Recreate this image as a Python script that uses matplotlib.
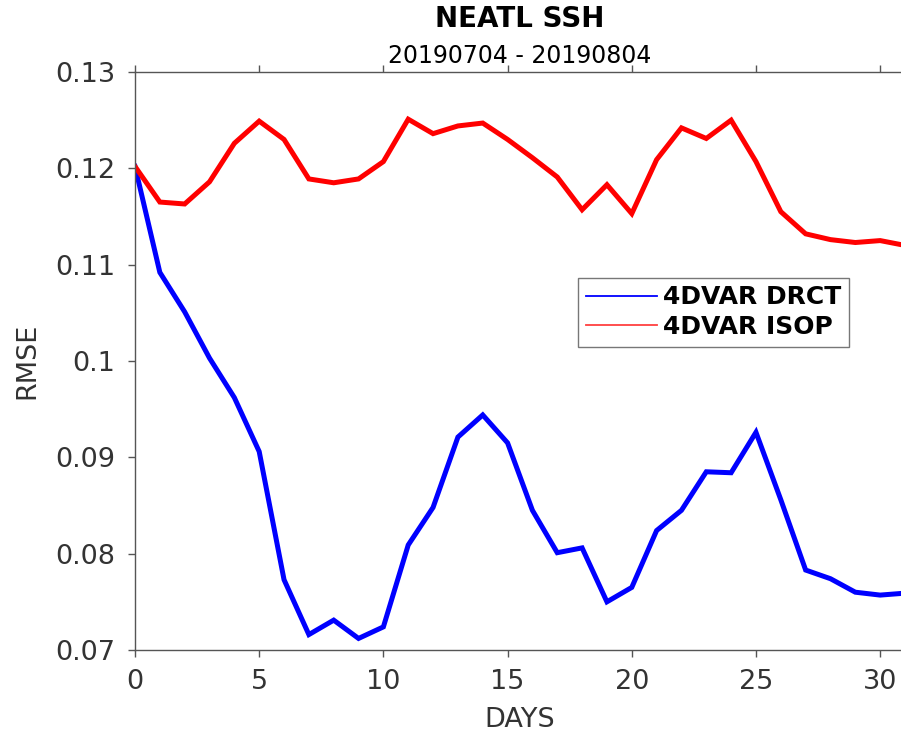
import numpy as np
import matplotlib
matplotlib.use('Agg')
import matplotlib.pyplot as plt
from matplotlib.lines import Line2D

#===============================================================================
# Data
#===============================================================================

days = list(range(32))

rmse_drct = [0.1202, 0.1092, 0.1051, 0.1003, 0.0962, 0.0906, 0.0773, 0.0716,
             0.0731, 0.0712, 0.0724, 0.0809, 0.0848, 0.0921, 0.0944, 0.0915,
             0.0845, 0.0801, 0.0806, 0.0750, 0.0765, 0.0824, 0.0845, 0.0885,
             0.0884, 0.0926, 0.0856, 0.0783, 0.0774, 0.0760, 0.0757, 0.0759]

rmse_isop = [0.1202, 0.1165, 0.1163, 0.1186, 0.1226, 0.1249, 0.1230, 0.1189,
             0.1185, 0.1189, 0.1207, 0.1251, 0.1236, 0.1244, 0.1247, 0.1230,
             0.1211, 0.1191, 0.1157, 0.1183, 0.1153, 0.1209, 0.1242, 0.1231,
             0.1250, 0.1207, 0.1155, 0.1132, 0.1126, 0.1123, 0.1125, 0.1120]

series_names = ['4DVAR DRCT', '4DVAR ISOP']
xticks = [0, 5, 10, 15, 20, 25, 30]
yticks = [0.07, 0.08, 0.09, 0.10, 0.11, 0.12, 0.13]
ytick_labels = ['0.07', '0.08', '0.09', '0.1', '0.11', '0.12', '0.13']

#===============================================================================
# Plot
#===============================================================================

W, H = 901, 736
fig = plt.figure(figsize=(W / 100, H / 100), dpi=100)

# axes box in pixels: left 135, right ~905 (cropped at 901), top 72, bottom 650
left, right, top, bottom = 135, 905, 72, 650
ax = fig.add_axes([left / W, 1 - bottom / H, (right - left) / W,
                   (bottom - top) / H])

txt_col = '#333333'
ax_col = '#555555'
ax.plot(days, rmse_drct, color='#0000ff', lw=3.6, solid_joinstyle='miter')
ax.plot(days, rmse_isop, color='#ff0000', lw=3.6, solid_joinstyle='miter')

ax.set_xlim(0, 31)
ax.set_ylim(0.07, 0.13)
ax.set_xticks(xticks)
ax.set_yticks(yticks)
ax.set_yticklabels(ytick_labels)

for s in ax.spines.values():
    s.set_color(ax_col)
    s.set_linewidth(1.0)

ax.tick_params(direction='out', length=5, width=1.0, color=ax_col,
               labelcolor=txt_col, labelsize=19.5, top=True, right=True)
ax.tick_params(axis='x', pad=9)
ax.tick_params(axis='y', pad=9)

ax.set_xlabel('DAYS', fontsize=19.5, color=txt_col, labelpad=8)
ax.set_ylabel('RMSE', fontsize=19.5, color=txt_col, labelpad=11)

cx = (left + right) / 2 / W
fig.text(cx, 1 - 19 / H, 'NEATL SSH', ha='center', va='center',
         fontsize=20, fontweight='bold', color='black')
fig.text(cx, 1 - 56 / H, '20190704 - 20190804', ha='center', va='center',
         fontsize=17, color='black')

handles = [Line2D([], [], color='#0000ff', lw=1.3),
           Line2D([], [], color='#ff4040', lw=1.3)]
leg = ax.legend(handles, series_names, loc='upper left',
                bbox_to_anchor=((578 - left) / (right - left),
                                1 - (278 - top) / (bottom - top)),
                prop={'size': 18, 'weight': 'bold'}, frameon=True,
                fancybox=False, handlelength=2.85, handletextpad=0.25,
                borderpad=0.3, labelspacing=0.22, borderaxespad=0)
leg.get_frame().set_edgecolor('#555555')
leg.get_frame().set_linewidth(1.0)

fig.savefig('out.png', dpi=100)
